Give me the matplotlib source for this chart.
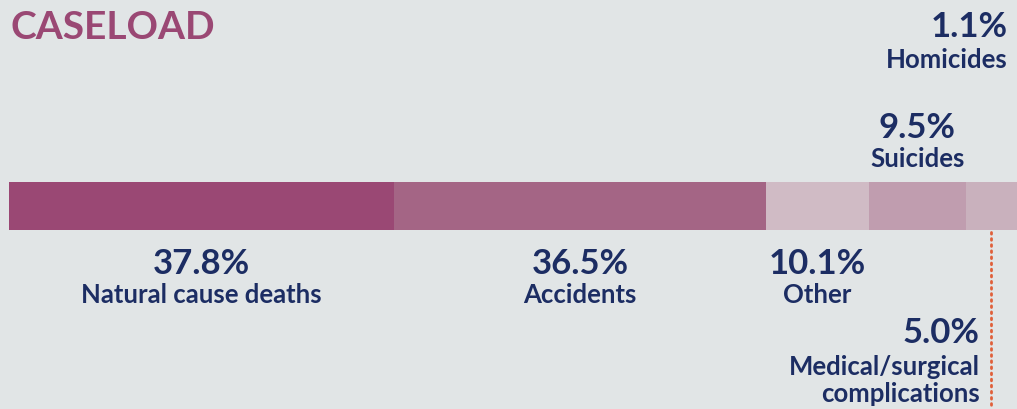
import matplotlib.pyplot as plt

# shares of caseload (percent), left to right along the bar
labels = ["Natural cause deaths", "Accidents", "Other", "Suicides",
          "Medical/surgical\ncomplications", "Homicides"]
values = [37.8, 36.5, 10.1, 9.5, 5.0, 1.1]
colors = ["#9a4874", "#a46585", "#d0bbc5", "#c09daf", "#c9b1bd", "#b48ba2"]

bg = "#e1e5e6"
navy = "#1c2d63"
plt.rcParams['font.family'] = ['Lato', 'DejaVu Sans']

fig = plt.figure(figsize=(10.17, 4.10), dpi=100, facecolor=bg)
ax = fig.add_axes([0, 0, 1, 1])
ax.set_facecolor(bg)
# x in percent (bar starts at pixel 9, ~10.19 px per percent), y in pixels from top
ax.set_xlim(-9 / 10.19, (1017 - 9) / 10.19)
ax.set_ylim(410, 0)
ax.axis("off")

left = 0
mids = []
for v, c in zip(values, colors):
    ax.barh(207, v, left=left, height=48, color=c, edgecolor="none")
    mids.append(left + v / 2)
    left += v

ax.text(0.1, 39, "CASELOAD", color="#9a4874", fontsize=28, fontweight="bold",
        va="baseline", ha="left")

pct = ["%.1f%%" % v for v in values]
big = 25
small = 18.5

# below the bar: natural, accidents, other
for i in range(3):
    ax.text(mids[i], 274, pct[i], color=navy, fontsize=big, fontweight="bold",
            ha="center", va="baseline")
    ax.text(mids[i], 303, labels[i], color=navy, fontsize=small, fontweight="bold",
            ha="center", va="baseline")

# suicides above the bar
ax.text(mids[3], 138, pct[3], color=navy, fontsize=big, fontweight="bold",
        ha="center", va="baseline")
ax.text(mids[3], 167, labels[3], color=navy, fontsize=small, fontweight="bold",
        ha="center", va="baseline")

# homicides, top right
xr = (1008 - 9) / 10.19
ax.text(xr, 37, pct[5], color=navy, fontsize=big, fontweight="bold",
        ha="right", va="baseline")
ax.text(xr, 68, labels[5], color=navy, fontsize=small, fontweight="bold",
        ha="right", va="baseline")

# medical, with dotted leader from its segment
ax.plot([mids[4], mids[4]], [233, 410], color="#e0603a", lw=2,
        linestyle=(0, (0.6, 1.6)), dash_capstyle="round")
xm = (980 - 9) / 10.19
ax.text(xm, 343, pct[4], color=navy, fontsize=big, fontweight="bold",
        ha="right", va="baseline")
ax.text(xm, 375, "Medical/surgical", color=navy, fontsize=small, fontweight="bold",
        ha="right", va="baseline")
ax.text(xm, 402, "complications", color=navy, fontsize=small, fontweight="bold",
        ha="right", va="baseline")

fig.savefig("out.png", dpi=100, facecolor=bg)
